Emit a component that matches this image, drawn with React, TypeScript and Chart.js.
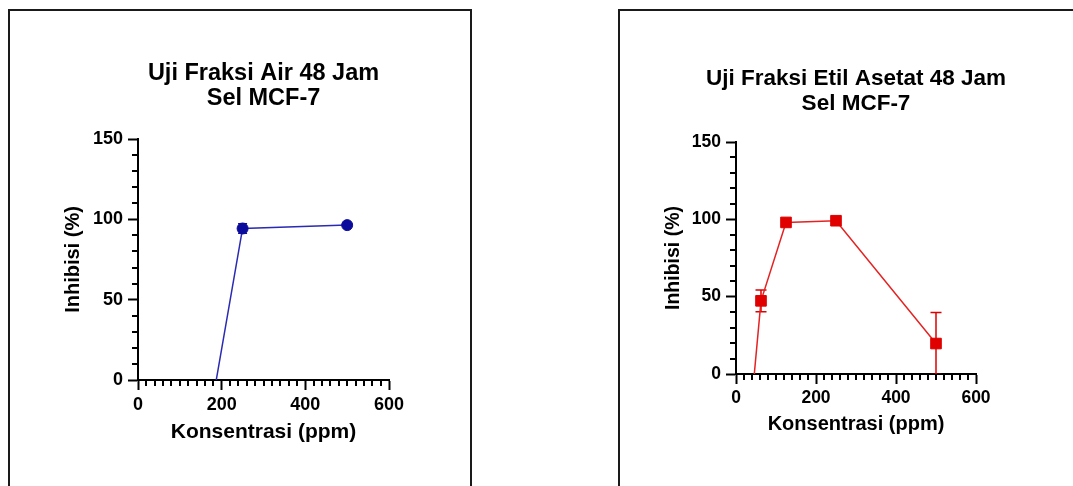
import React, { useEffect, useRef } from 'react';
import { Chart, registerables } from 'chart.js';

Chart.register(...registerables);

// ---- data ----
const xTicks = [0, 200, 400, 600];
const yTicks = [0, 50, 100, 150];

const airX = [125, 250, 500];
const airY = [-93, 94.3, 96.4];
const airErr = [0, 3, 0];

const etilX = [31.25, 62.5, 125, 250, 500];
const etilY = [-41, 47.3, 98, 99.1, 19.7];
const etilErr = [0, 7, 0, 0, 20];

const titleAir = ['Uji Fraksi Air 48 Jam', 'Sel MCF-7'];
const titleEtil = ['Uji Fraksi Etil Asetat 48 Jam', 'Sel MCF-7'];
const xLabel = 'Konsentrasi (ppm)';
const yLabel = 'Inhibisi (%)';

const FAMILY = '"Liberation Sans", Arial, sans-serif';

type PanelProps = {
  left: number;
  width: number;
  pad: { left: number; right: number; top: number; bottom: number };
  yW: number;
  xH: number;
  titleLines: string[];
  titleYs: number[];
  titleSize: number;
  tickSize: number;
  xTitleSize: number;
  yTitleSize: number;
  xs: number[];
  ys: number[];
  errs: number[];
  pointColor: string;
  lineColor: string;
  pointStyle: string;
  radius: number;
  capW: number;
};

function Panel(p: PanelProps) {
  const ref = useRef<HTMLCanvasElement | null>(null);
  useEffect(() => {
    const canvas = ref.current!;
    const decor = {
      id: 'decor' + p.left,
      beforeDatasetsDraw(chart: any) {
        const ctx = chart.ctx;
        const ca = chart.chartArea;
        const sx = chart.scales.x;
        const sy = chart.scales.y;
        ctx.save();
        ctx.beginPath();
        ctx.rect(ca.left, ca.top - 2, ca.right - ca.left, ca.bottom - ca.top + 2);
        ctx.clip();
        ctx.strokeStyle = p.pointColor;
        ctx.lineWidth = 1.5;
        p.xs.forEach((xv, i) => {
          const e = p.errs[i];
          if (!e) return;
          const px = sx.getPixelForValue(xv);
          const t = sy.getPixelForValue(p.ys[i] + e);
          const b = sy.getPixelForValue(p.ys[i] - e);
          ctx.beginPath();
          ctx.moveTo(px, t);
          ctx.lineTo(px, b);
          ctx.moveTo(px - p.capW / 2, t);
          ctx.lineTo(px + p.capW / 2, t);
          ctx.moveTo(px - p.capW / 2, b);
          ctx.lineTo(px + p.capW / 2, b);
          ctx.stroke();
        });
        ctx.restore();
      },
      afterDraw(chart: any) {
        const ctx = chart.ctx;
        const ca = chart.chartArea;
        const sx = chart.scales.x;
        const sy = chart.scales.y;
        ctx.save();
        ctx.strokeStyle = '#000';
        ctx.lineWidth = 2;
        ctx.beginPath();
        for (let v = 0; v <= 600; v += 20) {
          if (v % 200 === 0) continue;
          const px = Math.round(sx.getPixelForValue(v));
          ctx.moveTo(px, ca.bottom);
          ctx.lineTo(px, ca.bottom + 6);
        }
        for (let v = 0; v <= 150; v += 10) {
          if (v % 50 === 0) continue;
          const py = Math.round(sy.getPixelForValue(v));
          ctx.moveTo(ca.left - 6, py);
          ctx.lineTo(ca.left, py);
        }
        ctx.stroke();
        ctx.fillStyle = '#000';
        ctx.font = 'bold ' + p.titleSize + 'px ' + FAMILY;
        ctx.textAlign = 'center';
        ctx.textBaseline = 'middle';
        const cx = (ca.left + ca.right) / 2;
        p.titleLines.forEach((t, i) => ctx.fillText(t, cx, p.titleYs[i]));
        ctx.restore();
      },
    };
    const tickFont = { size: p.tickSize, weight: 'bold' as const, family: FAMILY };
    const xTitleFont = { size: p.xTitleSize, weight: 'bold' as const, family: FAMILY };
    const yTitleFont = { size: p.yTitleSize, weight: 'bold' as const, family: FAMILY };
    const zeroPad = (s: any) => {
      s.paddingLeft = 0;
      s.paddingRight = 0;
      s.paddingTop = 0;
      s.paddingBottom = 0;
    };
    const chart = new Chart(canvas, {
      type: 'scatter',
      data: {
        datasets: [
          {
            data: p.xs.map((x, i) => ({ x, y: p.ys[i] })),
            showLine: true,
            borderColor: p.lineColor,
            borderWidth: 1.5,
            pointStyle: p.pointStyle as any,
            pointRadius: p.radius,
            pointBackgroundColor: p.pointColor,
            pointBorderColor: p.pointColor,
            pointBorderWidth: 1,
          },
        ],
      },
      options: {
        animation: false,
        responsive: false,
        devicePixelRatio: 1,
        layout: { padding: p.pad },
        plugins: {
          legend: { display: false },
          tooltip: { enabled: false },
          title: { display: false },
        },
        scales: {
          x: {
            type: 'linear',
            min: 0,
            max: 600,
            afterBuildTicks: (s: any) => {
              s.ticks = xTicks.map((v) => ({ value: v }));
            },
            afterFit: (s: any) => {
              s.height = p.xH;
              zeroPad(s);
            },
            grid: {
              display: true,
              drawOnChartArea: false,
              drawTicks: true,
              tickLength: 10,
              tickWidth: 2,
              tickColor: '#000',
            },
            border: { display: true, color: '#000', width: 2 },
            ticks: { color: '#000', font: tickFont, padding: 4, maxRotation: 0, autoSkip: false },
            title: { display: true, text: xLabel, color: '#000', font: xTitleFont, padding: 0 },
          },
          y: {
            type: 'linear',
            min: 0,
            max: 150,
            afterBuildTicks: (s: any) => {
              s.ticks = yTicks.map((v) => ({ value: v }));
            },
            afterFit: (s: any) => {
              s.width = p.yW;
              zeroPad(s);
            },
            grid: {
              display: true,
              drawOnChartArea: false,
              drawTicks: true,
              tickLength: 10,
              tickWidth: 2,
              tickColor: '#000',
            },
            border: { display: true, color: '#000', width: 2 },
            ticks: { color: '#000', font: tickFont, padding: 5, autoSkip: false },
            title: { display: true, text: yLabel, color: '#000', font: yTitleFont, padding: 0 },
          },
        },
      },
      plugins: [decor],
    } as any);
    return () => chart.destroy();
  }, []);
  return (
    <canvas
      ref={ref}
      width={p.width}
      height={486}
      style={{ position: 'absolute', left: p.left, top: 0, width: p.width, height: 486 }}
    />
  );
}

export default function App() {
  return (
    <div
      style={{
        position: 'fixed',
        left: 0,
        top: 0,
        width: 1073,
        height: 486,
        overflow: 'hidden',
        background: '#fff',
      }}
    >
      <div
        style={{
          position: 'absolute',
          left: 8,
          top: 9,
          width: 460,
          height: 520,
          border: '2px solid #1a1a1a',
        }}
      />
      <div
        style={{
          position: 'absolute',
          left: 618,
          top: 9,
          width: 520,
          height: 520,
          border: '2px solid #1a1a1a',
        }}
      />
      <Panel
        left={0}
        width={540}
        pad={{ left: 61, right: 151, top: 139, bottom: 41 }}
        yW={77}
        xH={65}
        titleLines={titleAir}
        titleYs={[74, 99]}
        titleSize={23.5}
        tickSize={18}
        xTitleSize={21}
        yTitleSize={20}
        xs={airX}
        ys={airY}
        errs={airErr}
        pointColor="#0c0c9c"
        lineColor="#2a2ab4"
        pointStyle="circle"
        radius={5.5}
        capW={9}
      />
      <Panel
        left={540}
        width={533}
        pad={{ left: 122, right: 97, top: 142, bottom: 50 }}
        yW={74}
        xH={62}
        titleLines={titleEtil}
        titleYs={[79, 104]}
        titleSize={22.5}
        tickSize={17.5}
        xTitleSize={20}
        yTitleSize={19.5}
        xs={etilX}
        ys={etilY}
        errs={etilErr}
        pointColor="#e00000"
        lineColor="#e52222"
        pointStyle="rect"
        radius={7.5}
        capW={11}
      />
    </div>
  );
}
